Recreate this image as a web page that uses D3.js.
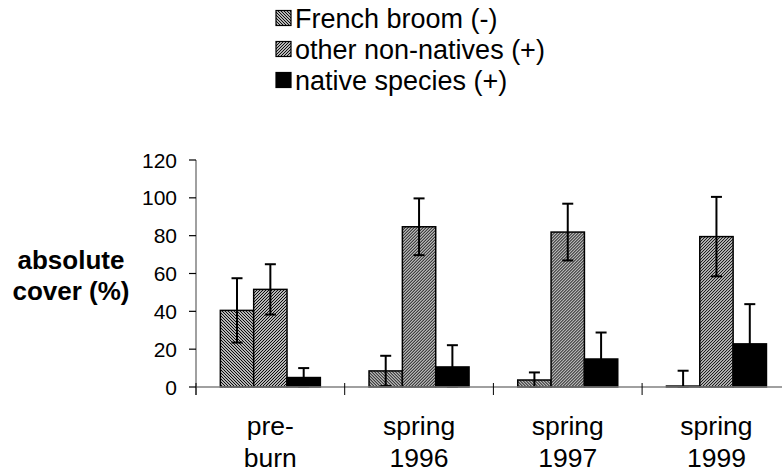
<!DOCTYPE html>
<meta charset="utf-8">
<body>
<script src="https://cdn.jsdelivr.net/npm/d3@7"></script>
<style>
    html, body {
        margin: 0;
        background: #fff;
    }
    text {
        font-family: Arial, "Liberation Sans", sans-serif;
        fill: #000;
    }
</style>
<script>
var categories = [["pre-", "burn"], ["spring", "1996"], ["spring", "1997"], ["spring", "1999"]],
    seriesNames = ["French broom (-)", "other non-natives (+)", "native species (+)"],
    french = [40.5, 8.5, 3.7, 0.5],
    frenchErr = [17, 8, 4, 8.1],
    other = [51.6, 84.7, 81.9, 79.5],
    otherErr = [13.3, 15, 15, 21],
    native = [5, 10.6, 14.8, 22.8],
    nativeErr = [5, 11.5, 14, 21],
    yTicks = [0, 20, 40, 60, 80, 100, 120];

var width = 782,
    height = 472;

var svg = d3.select("body").append("svg")
    .attr("width", width)
    .attr("height", height);

// hatch patterns
var defs = svg.append("defs");
function hatch(id, d) {
    var p = defs.append("pattern")
        .attr("id", id)
        .attr("patternUnits", "userSpaceOnUse")
        .attr("width", 3)
        .attr("height", 3);
    p.append("rect").attr("width", 3).attr("height", 3).attr("fill", "#fff");
    p.append("path").attr("d", d).attr("stroke", "#000").attr("stroke-width", 1.1);
}
hatch("hFrench", "M-1,-1L4,4M-1,2L1,4M2,-1L4,1");
hatch("hOther", "M-1,4L4,-1M-1,1L1,-1M2,4L4,2");
var fills = ["url(#hFrench)", "url(#hOther)", "#000"];

var series = [
    {name: seriesNames[0], values: french, err: frenchErr, fill: fills[0]},
    {name: seriesNames[1], values: other, err: otherErr, fill: fills[1]},
    {name: seriesNames[2], values: native, err: nativeErr, fill: fills[2]}
];

var y = d3.scaleLinear().domain([0, 120]).range([387, 160]);

var x0 = d3.scaleBand()
    .domain(d3.range(categories.length))
    .range([196, 196 + 4 * 148.7]);

var x1 = d3.scaleBand()
    .domain(d3.range(series.length))
    .range([0, x0.bandwidth()])
    .paddingInner(0)
    .paddingOuter(0.73);

// y axis
svg.append("line")
    .attr("x1", 196).attr("x2", 196)
    .attr("y1", y(120)).attr("y2", 395)
    .attr("stroke", "#808080").attr("stroke-width", 1.5);

svg.selectAll(".ytick")
    .data(yTicks)
    .enter().append("line")
    .attr("x1", 189).attr("x2", 196)
    .attr("y1", function(d) { return y(d); })
    .attr("y2", function(d) { return y(d); })
    .attr("stroke", "#000").attr("stroke-width", 1.2);

svg.selectAll(".ylab")
    .data(yTicks)
    .enter().append("text")
    .attr("x", 177)
    .attr("y", function(d) { return y(d); })
    .attr("dy", "0.36em")
    .attr("text-anchor", "end")
    .style("font-size", "21px")
    .text(function(d) { return d; });

// y axis title
var yt = svg.append("text")
    .attr("text-anchor", "middle")
    .style("font-size", "26px")
    .style("font-weight", "bold");
yt.append("tspan").attr("x", 71).attr("y", 269).text("absolute");
yt.append("tspan").attr("x", 71).attr("y", 300).text("cover (%)");

// bars
var groups = svg.selectAll(".grp")
    .data(categories)
    .enter().append("g")
    .attr("transform", function(d, i) { return "translate(" + x0(i) + ",0)"; });

groups.each(function(c, i) {
    var g = d3.select(this);
    series.forEach(function(s, j) {
        g.append("rect")
            .attr("x", x1(j))
            .attr("y", y(s.values[i]))
            .attr("width", x1.bandwidth())
            .attr("height", y(0) - y(s.values[i]))
            .attr("fill", s.fill)
            .attr("stroke", "#000")
            .attr("stroke-width", 1.5);
    });
    series.forEach(function(s, j) {
        var cx = x1(j) + x1.bandwidth() / 2,
            hi = s.values[i] + s.err[i],
            lo = Math.max(0, s.values[i] - s.err[i]);
        g.append("line")
            .attr("x1", cx).attr("x2", cx)
            .attr("y1", y(hi)).attr("y2", y(lo))
            .attr("stroke", "#000").attr("stroke-width", 2);
        g.append("line")
            .attr("x1", cx - 5.5).attr("x2", cx + 5.5)
            .attr("y1", y(hi)).attr("y2", y(hi))
            .attr("stroke", "#000").attr("stroke-width", 2);
        g.append("line")
            .attr("x1", cx - 5.5).attr("x2", cx + 5.5)
            .attr("y1", y(lo)).attr("y2", y(lo))
            .attr("stroke", "#000").attr("stroke-width", 2);
    });
});

// x axis
svg.append("line")
    .attr("x1", 196).attr("x2", width)
    .attr("y1", y(0)).attr("y2", y(0))
    .attr("stroke", "#808080").attr("stroke-width", 1.5);

svg.selectAll(".xtick")
    .data(d3.range(categories.length + 1))
    .enter().append("line")
    .attr("x1", function(d) { return 196 + d * x0.bandwidth(); })
    .attr("x2", function(d) { return 196 + d * x0.bandwidth(); })
    .attr("y1", y(0) - 4).attr("y2", y(0) + 8)
    .attr("stroke", "#000").attr("stroke-width", 1);

var xl = svg.selectAll(".xlab")
    .data(categories)
    .enter().append("text")
    .attr("text-anchor", "middle")
    .style("font-size", "26.5px");
xl.append("tspan")
    .attr("x", function(d, i) { return x0(i) + x0.bandwidth() / 2; })
    .attr("y", 435)
    .text(function(d) { return d[0]; });
xl.append("tspan")
    .attr("x", function(d, i) { return x0(i) + x0.bandwidth() / 2; })
    .attr("y", 467)
    .text(function(d) { return d[1]; });

// legend
var leg = svg.selectAll(".leg")
    .data(series)
    .enter().append("g")
    .attr("transform", function(d, i) { return "translate(276," + [18, 49, 80][i] + ")"; });

leg.append("rect")
    .attr("x", 0).attr("y", -7.5)
    .attr("width", 15).attr("height", 15)
    .attr("fill", function(d) { return d.fill; })
    .attr("stroke", "#000").attr("stroke-width", 1.2);

leg.append("text")
    .attr("x", 19)
    .attr("dy", "0.36em")
    .style("font-size", "27px")
    .text(function(d) { return d.name; });
</script>
